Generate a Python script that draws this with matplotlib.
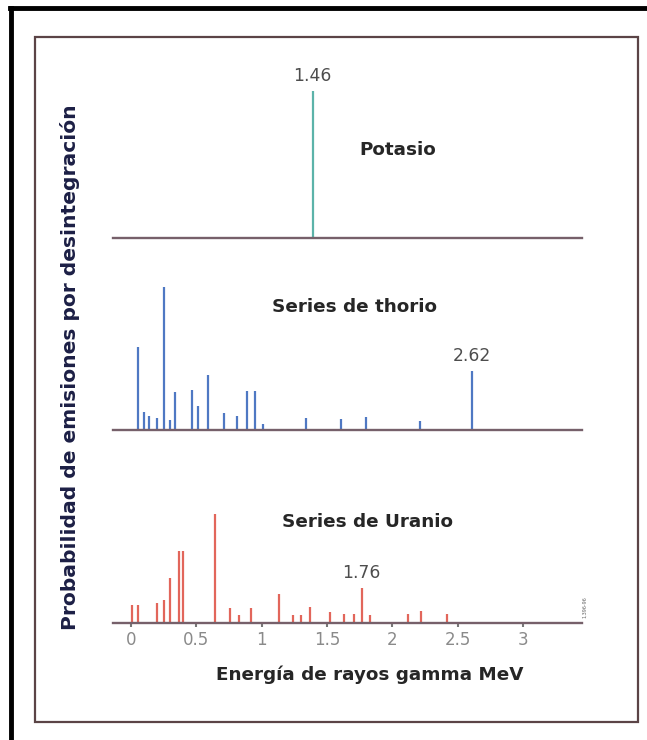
import matplotlib.pyplot as plt
from matplotlib.lines import Line2D
from matplotlib.patches import Rectangle

# Energies (MeV) and relative heights
k_energy = [1.39]
k_height = [147]

th_energy = [0.05, 0.10, 0.14, 0.20, 0.25, 0.30, 0.34, 0.47, 0.515, 0.59,
             0.71, 0.81, 0.89, 0.95, 1.01, 1.34, 1.61, 1.80, 2.21, 2.61]
th_height = [83, 18, 14, 12, 143, 10, 38, 40, 24, 55,
             17, 14, 39, 39, 6, 12, 11, 13, 9, 59]

u_energy = [0.005, 0.056, 0.20, 0.25, 0.30, 0.37, 0.40, 0.64, 0.76, 0.83,
            0.92, 1.13, 1.24, 1.30, 1.37, 1.52, 1.63, 1.71, 1.765, 1.83,
            2.12, 2.22, 2.42]
u_height = [18, 18, 20, 23, 45, 72, 72, 109, 15, 8,
            15, 29, 8, 8, 16, 11, 9, 9, 35, 8,
            9, 12, 9]

tick_values = [0, 0.5, 1, 1.5, 2, 2.5, 3]
tick_labels = ['0', '0.5', '1', '1.5', '2', '2.5', '3']

W, H = 647, 740
fig = plt.figure(figsize=(W / 100, H / 100), dpi=100)
fig.patch.set_facecolor('white')


def fx(px):
    return px / W


def fy(py):
    return 1 - py / H


#  Outer black border (top and left) and inner brown frame
fig.add_artist(Line2D([fx(10), fx(647)], [fy(8), fy(8)], color='black', lw=3.5,
                      transform=fig.transFigure))
fig.add_artist(Line2D([fx(11), fx(11)], [fy(8), fy(740)], color='black', lw=3.5,
                      transform=fig.transFigure))
fig.add_artist(Rectangle((fx(35), fy(722)), fx(638) - fx(35), fy(37) - fy(722),
                         fill=False, edgecolor='#5b4446', lw=1.6,
                         transform=fig.transFigure))

x_left, x_right = 113, 582
xlim = ((x_left - 131) / 130.7, (x_right - 131) / 130.7)
panel_h = 160
base_color = '#76606a'


def make_panel(bottom_px):
    ax = fig.add_axes([fx(x_left), fy(bottom_px), fx(x_right) - fx(x_left), panel_h / H])
    ax.set_xlim(*xlim)
    ax.set_ylim(0, panel_h)
    ax.patch.set_alpha(0)
    for s in ax.spines.values():
        s.set_visible(False)
    ax.set_yticks([])
    ax.axhline(0, color=base_color, lw=1.7, clip_on=False, zorder=3)
    return ax


title_kw = dict(fontsize=13.2, fontweight='bold', color='#262626', ha='center', va='center')
num_kw = dict(fontsize=12.3, color='#4d4d4d', ha='center', va='bottom',
              textcoords='offset points', xytext=(0, 4))

#  Potasio
ax_k = make_panel(238)
ax_k.vlines(k_energy, 0, k_height, color='#5cb3a9', lw=1.6)
ax_k.set_xticks([])
ax_k.text(2.04, 88, 'Potasio', **title_kw)
ax_k.annotate('1.46', (k_energy[0], k_height[0]), **num_kw)

#  Thorio
ax_th = make_panel(430)
ax_th.vlines(th_energy, 0, th_height, color='#4f78c3', lw=1.6)
ax_th.set_xticks([])
ax_th.text(1.71, 123, 'Series de thorio', **title_kw)
ax_th.annotate('2.62', (th_energy[-1], th_height[-1]), **num_kw)

#  Uranio
ax_u = make_panel(623)
ax_u.vlines(u_energy, 0, u_height, color='#e2665b', lw=1.6)
ax_u.set_xticks(tick_values)
ax_u.set_xticklabels(tick_labels)
ax_u.tick_params(axis='x', length=3, width=1.5, color='#777777', pad=3,
                 labelsize=12, labelcolor='#8a8a8a')
ax_u.text(1.81, 101, 'Series de Uranio', **title_kw)
ax_u.annotate('1.76', (1.765, 35), **num_kw)

fig.text(fx(370), fy(675), 'Energía de rayos gamma MeV', fontsize=13.2,
         fontweight='bold', color='#262626', ha='center', va='center')
fig.text(fx(70), fy(367), 'Probabilidad de emisiones por desintegración',
         fontsize=14.6, fontweight='bold', color='#1c1f45', rotation=90,
         ha='center', va='center')
fig.text(fx(585), fy(607), '1,396-96', fontsize=3.5, color='#666666',
         rotation=90, ha='center', va='center')

fig.savefig('out.png', dpi=100)
